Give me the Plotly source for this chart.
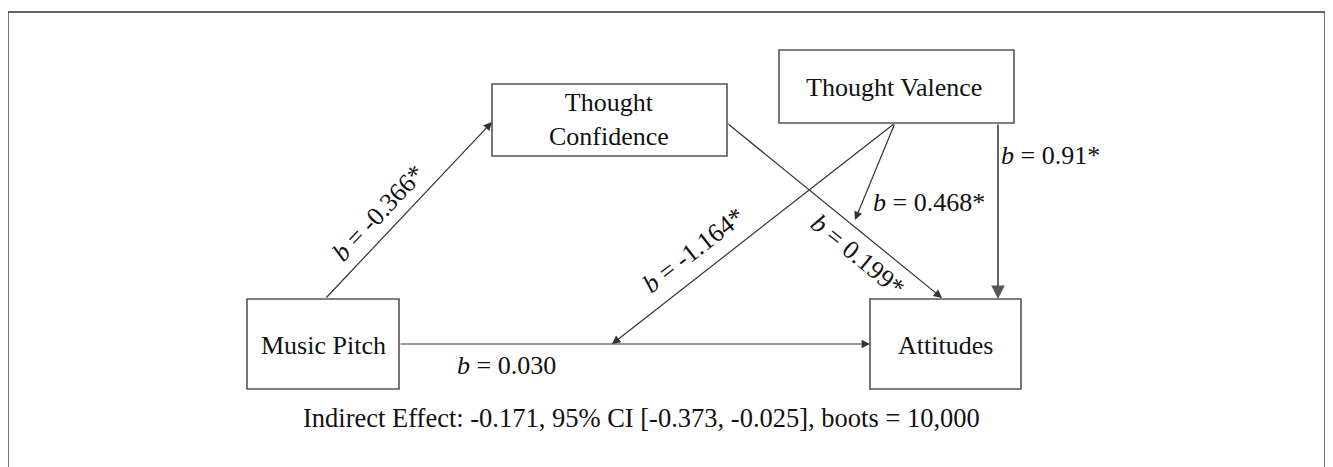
import plotly.graph_objects as go

# ---- data ----
node_names = ["Music Pitch", "Thought<br>Confidence", "Thought Valence", "Attitudes"]
path_labels = ["-0.366*", "0.199*", "-1.164*", "0.468*", "0.91*", "0.030"]
summary_text = "Indirect Effect: -0.171, 95% CI [-0.373, -0.025], boots = 10,000"

# ---- layout (page pixel coordinates, y downwards; page body has an 8px margin) ----
W, H = 1333, 467
OFF = 8
boxes = [  # x0, y0, x1, y1
    (247, 299, 399, 389),
    (492, 84, 727, 156),
    (779, 50, 1014, 123),
    (870, 299, 1021, 389),
]
node_text_pos = [(323, 345), (609, 119), (894, 87), (945, 345)]
node_font = 26

arrows = [  # (x_tail, y_tail, x_head, y_head, width, color, size)
    (325, 299, 492, 122, 1.2, "#333333", 1.4),
    (727, 123, 942, 298, 1.2, "#333333", 1.4),
    (895, 123, 612, 344, 1.2, "#333333", 1.4),
    (895, 123, 855, 220, 1.2, "#333333", 1.4),
    (998, 123, 998, 299, 1.8, "#555555", 1.5),
    (399, 344, 870, 344, 1.2, "#333333", 1.4),
]
label_pos = [  # x, y, angle
    (378, 213, -46.5),
    (858, 255, 39.5),
    (693, 250, -38),
    (929, 202, 0),
    (1050, 155, 0),
    (506, 365, 0),
]
label_font = 26

fig = go.Figure()
fig.add_trace(go.Scatter(x=[OFF, W], y=[OFF, H], mode="markers", marker=dict(opacity=0),
                         hoverinfo="skip", showlegend=False))

shapes = []
# outer frame
shapes.append(dict(type="rect", xref="x", yref="y", x0=8, y0=12, x1=1325, y1=480,
                   line=dict(color="#333333", width=1.3), fillcolor="rgba(0,0,0,0)", layer="below"))
for (x0, y0, x1, y1) in boxes:
    shapes.append(dict(type="rect", xref="x", yref="y", x0=x0, y0=y0, x1=x1, y1=y1,
                       line=dict(color="#555555", width=1.6), fillcolor="white"))

annotations = []
for name, (tx, ty) in zip(node_names, node_text_pos):
    annotations.append(dict(x=tx, y=ty, xref="x", yref="y", text=name, showarrow=False,
                            font=dict(family="Liberation Serif", size=node_font, color="#111111"),
                            align="center"))

for (xt, yt, xh, yh, w, c, s) in arrows:
    annotations.append(dict(x=xh, y=yh, ax=xt, ay=yt, xref="x", yref="y", axref="x", ayref="y",
                            text="", showarrow=True, arrowhead=2, arrowsize=s, arrowwidth=w,
                            arrowcolor=c, standoff=0, startstandoff=0))

for lab, (lx, ly, ang) in zip(path_labels, label_pos):
    annotations.append(dict(x=lx, y=ly, xref="x", yref="y", text="<i>b</i> = " + lab,
                            showarrow=False, textangle=ang,
                            font=dict(family="Liberation Serif", size=label_font, color="#111111")))

annotations.append(dict(x=641, y=418, xref="x", yref="y", text=summary_text, showarrow=False,
                        font=dict(family="Liberation Serif", size=26.5, color="#111111")))

fig.update_layout(
    width=W - OFF, height=H - OFF,
    margin=dict(l=0, r=0, t=0, b=0),
    paper_bgcolor="white", plot_bgcolor="white",
    xaxis=dict(range=[OFF, W], visible=False, fixedrange=True),
    yaxis=dict(range=[H, OFF], visible=False, fixedrange=True),
    shapes=shapes, annotations=annotations, showlegend=False,
)
fig.write_html("out.html")
